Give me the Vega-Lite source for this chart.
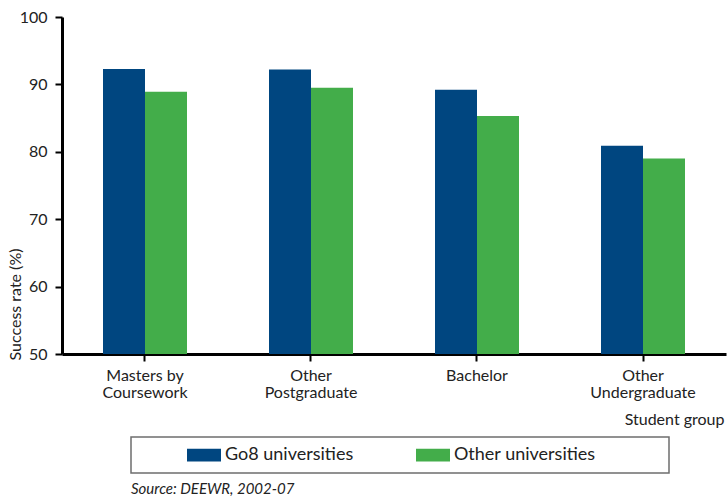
{
  "$schema": "https://vega.github.io/schema/vega-lite/v6.json",
  "width": 664,
  "height": 337,
  "autosize": {"type": "none"},
  "padding": {"left": 62, "top": 17, "right": 2, "bottom": 143},
  "background": "white",
  "title": {
    "text": "Source: DEEWR, 2002-07",
    "orient": "bottom",
    "anchor": "start",
    "frame": "group",
    "font": "Lato",
    "fontStyle": "italic",
    "fontWeight": "normal",
    "fontSize": 15,
    "color": "#222222",
    "dx": 69,
    "offset": 8
  },
  "data": {
    "values": [
      {"group": "Masters by Coursework", "type": "Go8 universities", "rate": 92.3},
      {"group": "Masters by Coursework", "type": "Other universities", "rate": 88.9},
      {"group": "Other Postgraduate", "type": "Go8 universities", "rate": 92.2},
      {"group": "Other Postgraduate", "type": "Other universities", "rate": 89.5},
      {"group": "Bachelor", "type": "Go8 universities", "rate": 89.2},
      {"group": "Bachelor", "type": "Other universities", "rate": 85.3},
      {"group": "Other Undergraduate", "type": "Go8 universities", "rate": 80.9},
      {"group": "Other Undergraduate", "type": "Other universities", "rate": 79.0}
    ]
  },
  "mark": {"type": "bar"},
  "encoding": {
    "x": {
      "field": "group",
      "type": "nominal",
      "sort": ["Masters by Coursework", "Other Postgraduate", "Bachelor", "Other Undergraduate"],
      "scale": {"paddingInner": 0.494, "paddingOuter": 0.247},
      "axis": {
        "title": "Student group",
        "titleX": 662,
        "titleY": 70,
        "titleAlign": "right",
        "titleBaseline": "alphabetic",
        "titleFont": "Lato",
        "titleFontSize": 16,
        "titleFontWeight": "normal",
        "titleColor": "#222222",
        "labelAngle": 0,
        "labelFont": "Lato",
        "labelFontSize": 16,
        "labelColor": "#222222",
        "labelBaseline": "top",
        "labelPadding": 6,
        "labelLineHeight": 17,
        "labelExpr": "datum.label == 'Masters by Coursework' ? ['Masters by', 'Coursework'] : datum.label == 'Other Postgraduate' ? ['Other', 'Postgraduate'] : datum.label == 'Other Undergraduate' ? ['Other', 'Undergraduate'] : datum.label",
        "tickColor": "black",
        "tickWidth": 2,
        "tickSize": 7,
        "domainColor": "black",
        "domainWidth": 3,
        "grid": false
      }
    },
    "xOffset": {"field": "type", "sort": ["Go8 universities", "Other universities"]},
    "y": {
      "field": "rate",
      "type": "quantitative",
      "scale": {"domain": [50, 100], "zero": false, "nice": false},
      "axis": {
        "values": [50, 60, 70, 80, 90, 100],
        "title": "Success rate (%)",
        "titleX": -47,
        "titleY": 343,
        "titleAngle": -90,
        "titleAlign": "left",
        "titleBaseline": "middle",
        "titleFont": "Lato",
        "titleFontSize": 16,
        "titleFontWeight": "normal",
        "titleColor": "#222222",
        "labelFont": "Lato",
        "labelFontSize": 16,
        "labelColor": "#222222",
        "labelPadding": 8,
        "tickColor": "black",
        "tickWidth": 2,
        "tickSize": 7,
        "domainColor": "black",
        "domainWidth": 3,
        "grid": false
      }
    },
    "y2": {"datum": 50},
    "color": {
      "field": "type",
      "type": "nominal",
      "scale": {"domain": ["Go8 universities", "Other universities"], "range": ["#004680", "#43AD4A"]},
      "legend": {
        "orient": "none",
        "legendX": 69,
        "legendY": 420,
        "direction": "horizontal",
        "title": "\u00a0",
        "titleOrient": "left",
        "titleFont": "Lato",
        "titleFontSize": 18,
        "titlePadding": 48,
        "strokeColor": "#6e6e6e",
        "padding": 8,
        "clipHeight": 20,
        "symbolType": "M-1,-0.375H1V0.375H-1Z",
        "symbolSize": 1156,
        "symbolStrokeWidth": 0,
        "symbolOpacity": 1,
        "labelFont": "Lato",
        "labelFontSize": 18,
        "labelColor": "#222222",
        "labelOffset": 4,
        "labelLimit": 400,
        "columnPadding": 62,
        "labelExpr": "datum.label == 'Other universities' ? datum.label + '\u2800\u2800\u2800\u2800\u2800' : datum.label",
        "encode": {"legend": {"update": {"strokeWidth": {"value": 1.5}}}}
      }
    }
  },
  "config": {
    "view": {"stroke": null}
  }
}
